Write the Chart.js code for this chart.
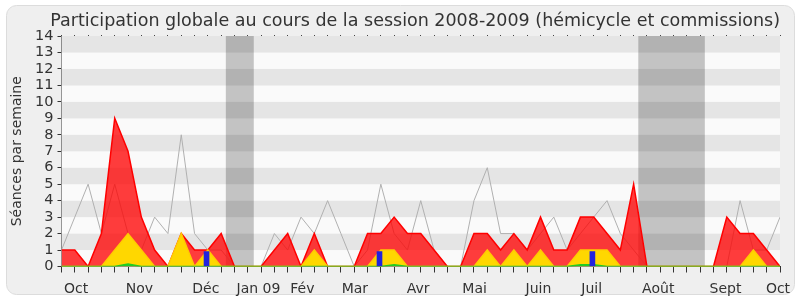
<!DOCTYPE html>
<html>
<head>
<meta charset="utf-8">
<script src="https://cdn.jsdelivr.net/npm/chart.js@4.4.1/dist/chart.umd.min.js"></script>
<style>
  html, body { margin: 0; padding: 0; background: #fff; }
  #wrap { width: 800px; height: 300px; }
</style>
</head>
<body>
<div id="wrap"><canvas id="chart" width="800" height="300"></canvas></div>
<script>
// weekly values, session 2008-2009 (55 weeks)
const total = [1, 1, 0, 2, 9, 7, 3, 1, 0, 2, 1, 1, 2, 0, 0, 0, 1, 2, 0, 2, 0, 0, 0, 2, 2, 3, 2, 2, 1, 0,
  0, 2, 2, 1, 2, 1, 3, 1, 1, 3, 3, 2, 1, 5, 0, 0, 0, 0, 0, 0, 3, 2, 2, 1, 0];
const hemicycle = [0, 0, 0, 0, 1, 2, 1, 0, 0, 2, 0, 1, 0, 0, 0, 0, 0, 0, 0, 1, 0, 0, 0, 0, 1, 1, 0, 0, 0, 0,
  0, 0, 1, 0, 1, 0, 1, 0, 0, 1, 1, 1, 0, 0, 0, 0, 0, 0, 0, 0, 0, 0, 1, 0, 0];
const questions = [0, 0, 0, 0, 0, 0.15, 0, 0, 0, 0, 0, 0, 0, 0, 0, 0, 0, 0, 0, 0, 0, 0, 0, 0, 0, 0.1, 0, 0, 0, 0,
  0, 0, 0, 0, 0, 0, 0, 0, 0, 0.1, 0.1, 0, 0, 0, 0, 0, 0, 0, 0, 0, 0, 0, 0, 0, 0];
const moyenne = [1, 3, 5, 2, 5, 2, 1, 3, 2, 8, 2, 1, 1, 0, 0, 0, 2, 1, 3, 2, 4, 2, 0, 1, 5, 2, 1, 4, 1, 0,
  0, 4, 6, 2, 2, 1, 2, 3, 1, 2, 3, 4, 2, 1, 0, 0, 0, 0, 0, 0, 0, 4, 1, 1, 3];
const interventionWeeks = [10.9, 23.9, 39.9];
const interventionValues = [0.9, 0.9, 0.9];
const vacances = [[12.35, 14.45], [43.35, 48.35]];
const monthLabels = ['Oct', 'Nov', 'Déc', 'Jan 09', 'Fév', 'Mar', 'Avr', 'Mai', 'Juin', 'Juil', 'Août', 'Sept', 'Oct'];
const monthPos = [1.1, 5.85, 10.85, 14.8, 18.1, 22.05, 26.8, 31.05, 35.85, 39.85, 44.85, 49.9, 53.85];
const WEEKS = 54;

const FONT = 'DejaVu Sans';
const toXY = arr => arr.map((v, i) => ({ x: i, y: v }));

// panel, stripes and holiday bands
const decor = {
  id: 'decor',
  beforeDraw(chart) {
    const ctx = chart.ctx;
    ctx.save();
    ctx.fillStyle = '#efefef';
    ctx.strokeStyle = '#dcdcdc';
    ctx.lineWidth = 1;
    ctx.beginPath();
    ctx.roundRect(6.5, 5.5, 788, 289, 10);
    ctx.fill();
    ctx.stroke();
    ctx.restore();
  },
  beforeDatasetsDraw(chart) {
    const { ctx, chartArea: a, scales: { x, y } } = chart;
    ctx.save();
    for (let v = 0; v < 14; v++) {
      ctx.fillStyle = v % 2 ? '#e5e5e5' : '#fafafa';
      const top = y.getPixelForValue(v + 1), bot = y.getPixelForValue(v);
      ctx.fillRect(a.left, top, a.right - a.left, bot - top);
    }
    ctx.fillStyle = 'rgba(0,0,0,0.22)';
    vacances.forEach(([s, e]) => {
      const l = x.getPixelForValue(s), r = x.getPixelForValue(e);
      ctx.fillRect(l, a.top, r - l, a.bottom - a.top);
    });
    ctx.restore();
  }
};

new Chart(document.getElementById('chart'), {
  type: 'line',
  data: {
    datasets: [
      {
        type: 'bar',
        data: interventionWeeks.map((w, i) => ({ x: w, y: interventionValues[i] })),
        backgroundColor: '#2222dd',
        barThickness: 5,
        order: 1
      },
      {
        data: toXY(questions),
        borderColor: '#22cc22',
        backgroundColor: '#22cc22',
        borderWidth: 1.5,
        fill: 'origin',
        pointRadius: 0,
        tension: 0,
        order: 2
      },
      {
        data: toXY(hemicycle),
        borderColor: '#ffcc00',
        backgroundColor: '#ffd700',
        borderWidth: 1.5,
        fill: 'origin',
        pointRadius: 0,
        tension: 0,
        order: 3
      },
      {
        data: toXY(total),
        borderColor: '#ff0000',
        backgroundColor: 'rgba(255,0,0,0.76)',
        borderWidth: 1.5,
        fill: 'origin',
        pointRadius: 0,
        tension: 0,
        order: 4
      },
      {
        data: toXY(moyenne),
        borderColor: '#b0b0b0',
        borderWidth: 1,
        fill: false,
        pointRadius: 0,
        tension: 0,
        order: 5
      }
    ]
  },
  options: {
    responsive: false,
    animation: false,
    layout: { padding: { left: 0, right: 20, top: 0, bottom: 0 } },
    plugins: {
      legend: { display: false },
      tooltip: { enabled: false },
      title: {
        display: true,
        text: 'Participation globale au cours de la session 2008-2009 (hémicycle et commissions)',
        align: 'end',
        color: '#333',
        font: { family: FONT, size: 17.5, weight: 'normal' },
        padding: { top: 11, bottom: 4 }
      }
    },
    scales: {
      // weekly tick marks under the axis
      x: {
        type: 'linear',
        min: 0,
        max: WEEKS,
        offset: false,
        weight: 0,
        afterBuildTicks: s => { s.ticks = total.map((_, i) => ({ value: i })); },
        afterFit: s => { s.height = 6; },
        grid: { display: true, drawOnChartArea: false, offset: false, color: '#333', lineWidth: 1, tickLength: 6 },
        border: { display: true, color: '#333', width: 1 },
        ticks: { display: false, autoSkip: false }
      },
      // month labels
      xm: {
        type: 'linear',
        position: 'bottom',
        min: 0,
        max: WEEKS,
        offset: false,
        weight: 1,
        afterBuildTicks: s => { s.ticks = monthPos.map(v => ({ value: v })); },
        afterFit: s => { s.height = 27.5; },
        grid: { display: false },
        border: { display: false },
        ticks: {
          autoSkip: false,
          maxRotation: 0,
          padding: 0,
          color: '#333',
          font: { family: FONT, size: 14 },
          callback: v => monthLabels[monthPos.indexOf(v)]
        }
      },
      // dotted week marks along the top
      xt: {
        type: 'linear',
        position: 'top',
        min: 0,
        max: WEEKS,
        offset: false,
        afterBuildTicks: s => { s.ticks = total.map((_, i) => ({ value: i })); },
        afterFit: s => { s.height = 0; },
        grid: { display: true, drawOnChartArea: false, offset: false, color: '#444', tickLength: 1 },
        border: { display: false },
        ticks: { display: false, autoSkip: false }
      },
      y: {
        min: 0,
        max: 14,
        afterFit: s => { s.width = 61.5; },
        grid: { drawOnChartArea: false, color: '#333', tickLength: 4 },
        border: { display: true, color: '#333', width: 1 },
        ticks: {
          stepSize: 1,
          autoSkip: false,
          padding: 4,
          color: '#333',
          font: { family: FONT, size: 14.5 }
        },
        title: {
          display: true,
          text: 'Séances par semaine',
          color: '#333',
          font: { family: FONT, size: 14 },
          padding: { top: 9, bottom: 0 }
        }
      }
    }
  },
  plugins: [decor]
});
</script>
</body>
</html>
